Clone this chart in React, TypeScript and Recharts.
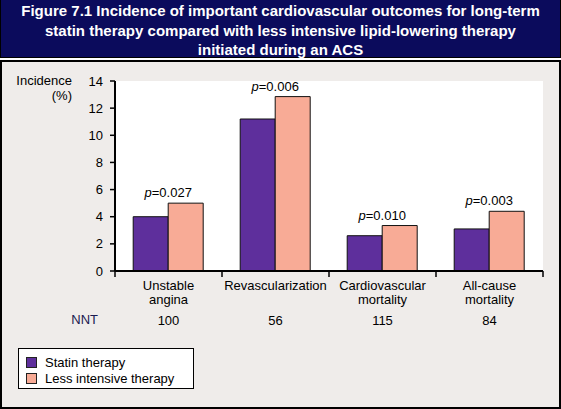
import React from 'react';
import { ComposedChart, Bar, XAxis, YAxis, CartesianGrid, LabelList } from 'recharts';

const categories = [['Unstable', 'angina'], ['Revascularization'], ['Cardiovascular', 'mortality'], ['All-cause', 'mortality']];
const statinValues = [4.0, 11.2, 2.6, 3.1];
const lessIntensiveValues = [5.0, 12.85, 3.35, 4.4];
const pValues = ['0.027', '0.006', '0.010', '0.003'];
const nntValues = [100, 56, 115, 84];
const yTicks = [0, 2, 4, 6, 8, 10, 12, 14];
const seriesNames = ['Statin therapy', 'Less intensive therapy'];

const STATIN = '#5e2f9c';
const LESS = '#f8ab96';
const FONT = '"Liberation Sans", Arial, Helvetica, sans-serif';

const data = categories.map((lines, i) => ({
  name: lines.join(' '),
  lines,
  statin: statinValues[i],
  less: lessIntensiveValues[i],
  p: pValues[i],
  nnt: nntValues[i],
}));

// category label + NNT row, with tick marks on the band edges
const CategoryTick = (props: any) => {
  const { x, y, index, payload } = props;
  const row = data[index];
  if (!row) return null;
  const half = payload?.offset ?? 0;
  const last = index === data.length - 1;
  return (
    <g fontFamily={FONT} fontSize={13} fill="#000" textAnchor="middle">
      <line x1={x - half} x2={x - half} y1={y} y2={y + 6} stroke="#000" strokeWidth={1.5} />
      {last && <line x1={x + half} x2={x + half} y1={y} y2={y + 6} stroke="#000" strokeWidth={1.5} />}
      {row.lines.map((l, k) => (
        <text key={k} x={x} y={y + 18.5 + k * 14}>{l}</text>
      ))}
      <text x={x} y={y + 53.5}>{row.nnt}</text>
    </g>
  );
};

// p-value sits over the pair, centred on the join between the two bars
const PLabel = (props: any) => {
  const { x, y, index } = props;
  return (
    <text x={x} y={y - 6} textAnchor="middle" fontFamily={FONT} fontSize={13} fill="#000">
      <tspan fontStyle="italic">p</tspan>
      <tspan>={pValues[index]}</tspan>
    </text>
  );
};

export default function App() {
  return (
    <div style={{ position: 'absolute', left: 0, top: 0, width: 561, height: 409, background: '#fff', fontFamily: FONT, overflow: 'hidden' }}>
      <div style={{
        position: 'absolute', left: 0, top: 0, width: 559, height: 56, background: '#0b0b5c',
        border: '1px solid #000', borderTop: 'none', color: '#fff', fontWeight: 'bold', fontSize: 15,
        lineHeight: '19.5px', textAlign: 'center', paddingTop: 1, boxSizing: 'content-box',
      }}>
        Figure 7.1 Incidence of important cardiovascular outcomes for long-term<br />
        statin therapy compared with less intensive lipid-lowering therapy<br />
        initiated during an ACS
      </div>
      <div style={{
        position: 'absolute', left: 0, top: 60, width: 557, height: 345, background: '#efecea',
        border: '2px solid #000',
      }} />
      <div style={{ position: 'absolute', left: 0, top: 73, width: 72, textAlign: 'right', fontSize: 13, lineHeight: '15px', color: '#000' }}>
        Incidence<br />(%)
      </div>
      <div style={{ position: 'absolute', left: 0, top: 312, width: 98, textAlign: 'right', fontSize: 13, lineHeight: '15px', color: '#1a1a50' }}>
        NNT
      </div>
      <div style={{ position: 'absolute', left: 0, top: 0 }}>
        <ComposedChart width={561} height={409} data={data} barCategoryGap="17%" barGap={0}
          margin={{ top: 81, right: 18, left: 0, bottom: 78 }}>
          <CartesianGrid horizontal={false} vertical={false} fill="#fff" />
          <XAxis dataKey="name" height={60} tickSize={0} tickMargin={0} tick={<CategoryTick />}
            interval={0} axisLine={{ stroke: '#000', strokeWidth: 2 }} tickLine={false} />
          <XAxis xAxisId="t" orientation="top" height={0} tick={false} tickLine={false}
            axisLine={{ stroke: '#000', strokeWidth: 2 }} />
          <YAxis domain={[0, 14]} ticks={yTicks} width={115} tickSize={5} tickMargin={7}
            axisLine={{ stroke: '#000', strokeWidth: 2 }} tickLine={{ stroke: '#000', strokeWidth: 1.5 }}
            tick={{ fill: '#000', fontSize: 13, fontFamily: FONT }} />
          <YAxis yAxisId="r" orientation="right" domain={[0, 14]} width={0} tick={false} tickLine={false}
            axisLine={{ stroke: '#000', strokeWidth: 2 }} />
          <Bar dataKey="statin" name={seriesNames[0]} fill={STATIN} stroke="#111" strokeWidth={1} isAnimationActive={false} />
          <Bar dataKey="less" name={seriesNames[1]} fill={LESS} stroke="#111" strokeWidth={1} isAnimationActive={false}>
            <LabelList dataKey="p" content={<PLabel />} />
          </Bar>
        </ComposedChart>
      </div>
      <div style={{
        position: 'absolute', left: 18, top: 348, width: 176, height: 41, background: '#fff',
        border: '1px solid #000', fontSize: 13, lineHeight: '15.5px', paddingTop: 6, boxSizing: 'border-box',
      }}>
        {seriesNames.map((n, i) => (
          <div key={n} style={{ display: 'flex', alignItems: 'center', paddingLeft: 7 }}>
            <span style={{ display: 'inline-block', width: 9, height: 9, background: i === 0 ? STATIN : LESS, border: '1px solid #222', marginRight: 8 }} />
            <span>{n}</span>
          </div>
        ))}
      </div>
    </div>
  );
}
